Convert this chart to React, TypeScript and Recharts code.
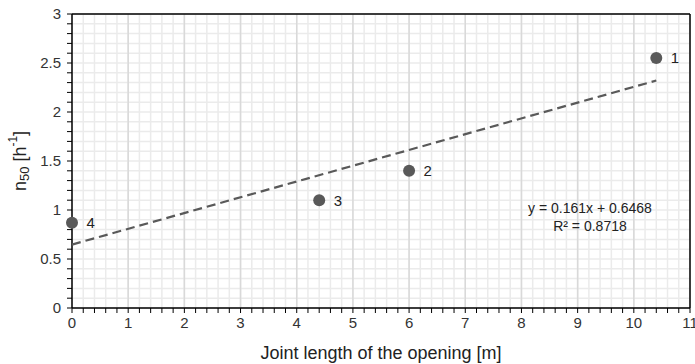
import {
  ScatterChart,
  Scatter,
  XAxis,
  YAxis,
  CartesianGrid,
  ReferenceLine,
  ReferenceDot,
  LabelList,
  Label,
} from 'recharts';

// measured points: joint length [m] vs n50 [1/h]
const pointX = [10.4, 6.0, 4.4, 0.0];
const pointY = [2.55, 1.4, 1.1, 0.87];
const pointLabels = ['1', '2', '3', '4'];

// linear trend y = 0.161x + 0.6468, drawn between its end points
const trendX = [0, 10.4];
const trendY = [0.647, 2.321];

const majorX = [1, 2, 3, 4, 5, 6, 7, 8, 9, 10];
const xTicks = Array.from({ length: 56 }, (_, i) => Math.round(i * 2) / 10);
const yTicks = Array.from({ length: 31 }, (_, i) => Math.round(i) / 10);

const points = pointX.map((x, i) => ({ x, y: pointY[i], label: pointLabels[i] }));
const trend = trendX.map((x, i) => ({ x, y: trendY[i] }));

const font = 'Liberation Sans, Arial, sans-serif';
const dark = '#595959';

const fmtX = (v: number) => (Math.abs(v - Math.round(v)) < 1e-6 ? String(Math.round(v)) : '');
const fmtY = (v: number) => (Math.abs(v * 2 - Math.round(v * 2)) < 1e-6 ? String(v) : '');

function YTitle(props: any) {
  const { viewBox } = props;
  const cx = 20;
  const cy = viewBox.y + viewBox.height / 2;
  return (
    <text
      x={cx}
      y={cy}
      transform={`rotate(-90 ${cx} ${cy})`}
      textAnchor="middle"
      dominantBaseline="central"
      fontFamily={font}
      fontSize={18}
      fill="#222"
    >
      n<tspan fontSize={13} dy={4}>50</tspan>
      <tspan dy={-4}> [h</tspan>
      <tspan fontSize={12} dy={-7}>-1</tspan>
      <tspan dy={7}>]</tspan>
    </text>
  );
}

const Dot = (props: any) => <circle cx={props.cx} cy={props.cy} r={6} fill={dark} />;

export default function App() {
  return (
    <div style={{ position: 'absolute', left: 0, top: 0, background: '#fff' }}>
      <ScatterChart
        width={695}
        height={364}
        margin={{ top: 14, right: 5, bottom: 20, left: 22 }}
      >
        <CartesianGrid stroke="#ebebeb" strokeWidth={1.5} />
        {majorX.map((x) => (
          <ReferenceLine key={x} x={x} stroke="#d9d9d9" strokeWidth={1.5} />
        ))}
        <ReferenceLine y={3} stroke="#000" strokeWidth={1.5} />
        <ReferenceLine x={11} stroke="#000" strokeWidth={1.5} />
        <XAxis
          type="number"
          dataKey="x"
          domain={[0, 11]}
          ticks={xTicks}
          interval={0}
          tickFormatter={fmtX}
          height={36}
          axisLine={{ stroke: '#000', strokeWidth: 1.5 }}
          tickLine={{ stroke: '#000' }}
          tickSize={5}
          tickMargin={4}
          tick={{ fontFamily: font, fontSize: 15, fill: '#333' }}
        >
          <Label
            value="Joint length of the opening [m]"
            position="bottom"
            offset={2}
            style={{ fontFamily: font, fontSize: 18, fill: '#222' }}
          />
        </XAxis>
        <YAxis
          type="number"
          dataKey="y"
          domain={[0, 3]}
          ticks={yTicks}
          interval={0}
          tickFormatter={fmtY}
          width={50}
          axisLine={{ stroke: '#000', strokeWidth: 1.5 }}
          tickLine={{ stroke: '#000' }}
          tickSize={5}
          tickMargin={6}
          tick={{ fontFamily: font, fontSize: 15, fill: '#333' }}
        >
          <Label content={<YTitle />} />
        </YAxis>
        <Scatter
          data={trend}
          line={{ stroke: dark, strokeWidth: 2.2, strokeDasharray: '9 5' }}
          lineType="joint"
          shape={() => null}
          isAnimationActive={false}
        />
        <Scatter data={points} fill={dark} isAnimationActive={false} shape={<Dot />}>
          <LabelList
            dataKey="label"
            position="right"
            offset={10}
            style={{ fontFamily: font, fontSize: 15, fill: '#222' }}
          />
        </Scatter>
        <ReferenceDot x={9.22} y={1.02} r={0} fill="none" stroke="none">
          <Label
            value="y = 0.161x + 0.6468"
            position="center"
            style={{ fontFamily: font, fontSize: 14, fill: '#222' }}
          />
        </ReferenceDot>
        <ReferenceDot x={9.22} y={0.84} r={0} fill="none" stroke="none">
          <Label
            value="R² = 0.8718"
            position="center"
            style={{ fontFamily: font, fontSize: 14, fill: '#222' }}
          />
        </ReferenceDot>
      </ScatterChart>
    </div>
  );
}
